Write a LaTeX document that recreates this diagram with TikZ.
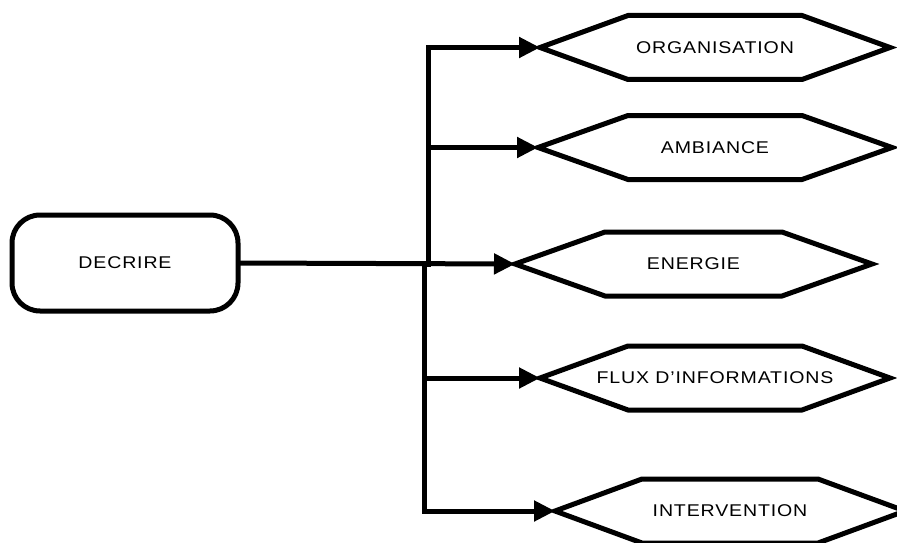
\documentclass[tikz,border=0pt]{standalone}
\usepackage{fontspec}
\setmainfont{Liberation Sans}
\usetikzlibrary{arrows.meta}
\newcommand\hexoutline[2]{% node name, depth of the pointed ends
  \draw[shapeline] (#1.west) -- ([xshift=#2]#1.north west) -- ([xshift=-#2]#1.north east)
    -- (#1.east) -- ([xshift=-#2]#1.south east) -- ([xshift=#2]#1.south west) -- cycle;}
\begin{document}
\begin{tikzpicture}[x=1pt,y=-1pt,
  shapeline/.style={line width=5pt,line join=miter},
  label/.style={font=\fontsize{17}{20}\selectfont\addfontfeature{FakeStretch=1.15,LetterSpace=5}},
  hexbox/.style={label,minimum height=64pt,inner sep=0pt,outer sep=0pt},
  startbox/.style={label,draw,line width=5pt,rounded corners=28pt,minimum width=226pt,minimum height=96pt,inner sep=0pt,outer sep=0pt},
  link/.style={line width=5pt},
  arrowlink/.style={link,-{Triangle[length=21pt,width=20pt]}}]
\useasboundingbox (0,0) rectangle (897,543);

\node[startbox] (decrire) at (125,263) {DECRIRE};

\node[hexbox,minimum width=350pt] (org) at (715,47.5) {ORGANISATION};
\node[hexbox,minimum width=354pt] (amb) at (715,147.5) {AMBIANCE};
\node[hexbox,minimum width=357pt] (ener) at (693.5,264) {ENERGIE};
\node[hexbox,minimum width=350pt] (flux) at (715,378) {FLUX D’INFORMATIONS};
\node[hexbox,minimum width=350pt] (interv) at (730,511) {INTERVENTION};

\hexoutline{org}{88pt}
\hexoutline{amb}{90pt}
\hexoutline{ener}{90pt}
\hexoutline{flux}{88pt}
\hexoutline{interv}{87pt}

% trunk and branches
\coordinate (top) at (428,47.5);
\coordinate (mid) at (428,264);
\coordinate (midb) at (424,264);
\coordinate (bot) at (424,511);
\coordinate (ambj) at (428,147.5);
\coordinate (fluxj) at (424,378);

\draw[link,line cap=rect] (top) -- (mid);
\draw[link,line cap=rect] (midb) -- (bot);
\draw[arrowlink] (decrire.east) -- (ener.west);
\draw[arrowlink] (top) -- (org.west);
\draw[arrowlink] (ambj) -- (amb.west);
\draw[arrowlink] (fluxj) -- (flux.west);
\draw[arrowlink] (bot) -- (interv.west);
\end{tikzpicture}
\end{document}
